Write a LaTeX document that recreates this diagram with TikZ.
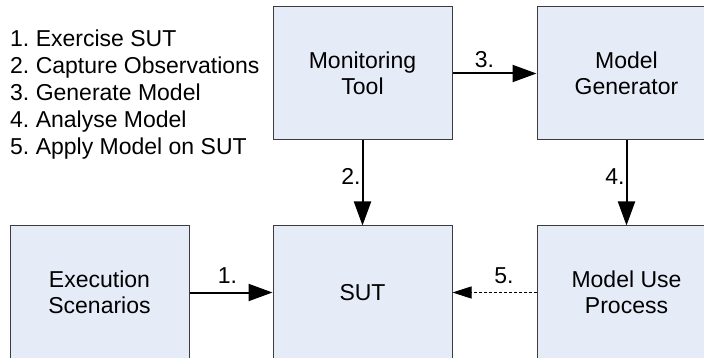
\documentclass[tikz,border=0pt]{standalone}
\usepackage{fontspec}
\setmainfont{Liberation Sans}
\usetikzlibrary{arrows.meta}
\frenchspacing
\definecolor{boxfill}{HTML}{E6ECF7}
\definecolor{boxline}{HTML}{3C3C3C}
\tikzset{
  blk/.style={draw=boxline, line width=1pt, fill=boxfill, rectangle,
    minimum width=179pt, minimum height=133pt, inner sep=0pt, align=center,
    font=\fontsize{23}{26.5}\selectfont},
  flow/.style={line width=2pt, -{Triangle[length=24pt,width=17pt]}},
  useflow/.style={line width=1pt, dash pattern=on 3pt off 2pt, -{Triangle[length=19pt,width=12pt]}},
  lbl/.style={font=\fontsize{23}{26.8}\selectfont, inner sep=0pt},
}
\begin{document}
\begin{tikzpicture}[x=1pt,y=-1pt]
\useasboundingbox (0,0) rectangle (704,358);
\clip (0,0) rectangle (704,358);
\fill[white] (0,0) rectangle (704,358);
\node[lbl, align=left, anchor=north west] (legend) at (10,30)
  {1. Exercise SUT\\2. Capture Observations\\3. Generate Model\\4. Analyse Model\\5. Apply Model on SUT};
\node[blk] (mon) at (362.5,73.5) {Monitoring\\Tool};
\node[blk] (gen) at (626.5,73.5) {Model\\Generator};
\node[blk] (exe) at (99.5,292.5) {Execution\\Scenarios};
\node[blk] (sut) at (362.5,292.5) {SUT};
\node[blk] (mup) at (626.5,292.5) {Model Use\\Process};
\draw[flow] (mon.east) -- node[lbl, anchor=base, xshift=-10pt, yshift=6pt] {3.} (gen.west);
\draw[flow] (mon.south) -- node[lbl, anchor=base east, xshift=-1pt, yshift=-2pt] {2.} (sut.north);
\draw[flow] (gen.south) -- node[lbl, anchor=base east, xshift=-1pt, yshift=-2pt] {4.} (mup.north);
\draw[flow] (exe.east) -- node[lbl, anchor=base, xshift=-3.5pt, yshift=9pt] {1.} (sut.west);
\draw[useflow] (mup.west) -- node[lbl, anchor=base, xshift=9.5pt, yshift=9pt] {5.} (sut.east);
\end{tikzpicture}
\end{document}
